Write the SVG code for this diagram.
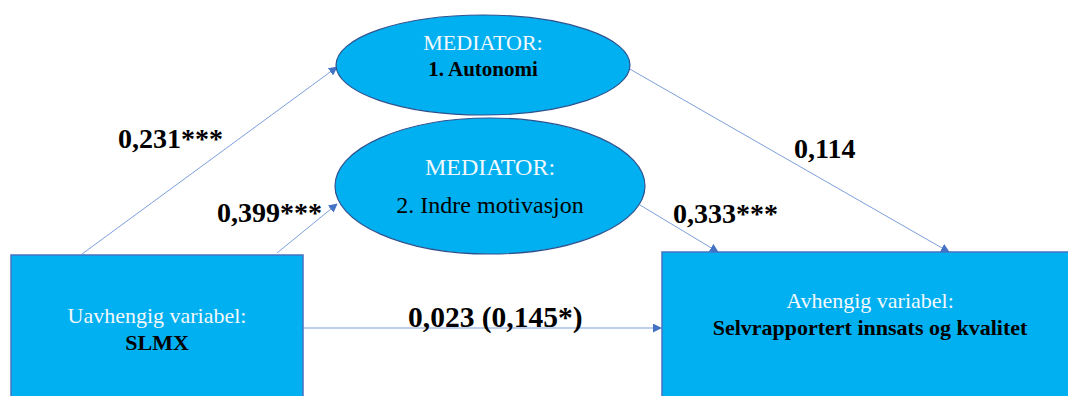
<svg xmlns="http://www.w3.org/2000/svg" width="1068" height="396" viewBox="0 0 1068 396">
<defs>
<style>
.box{fill:#00B0F0;stroke:#4472C4;stroke-width:1.5}
.ell{fill:#00B0F0;stroke:#2F528F;stroke-width:1.2}
text{font-family:'Liberation Serif','Times New Roman',Tinos,'DejaVu Serif',serif}
.lt{fill:#F2F8FC;text-anchor:middle}
.bk{fill:#000;text-anchor:middle}
.b{font-weight:bold}
.lbl{font-weight:bold;font-size:28px;fill:#000}
.con{stroke:#7C9FDA;stroke-width:1;fill:none;marker-end:url(#ah)}
</style>
<marker id="ah" viewBox="0 0 10 10" refX="9" refY="5" markerWidth="9" markerHeight="9" markerUnits="userSpaceOnUse" orient="auto">
<path d="M0,0 L10,5 L0,10 z" fill="#4472C4"/>
</marker>
</defs>
<rect width="1068" height="396" fill="#FFFFFF"/>
<g id="connectors">
<line class="con" x1="82" y1="254" x2="337" y2="67"/>
<line class="con" x1="277" y1="253" x2="337" y2="204"/>
<line class="con" x1="628" y1="68" x2="949" y2="252"/>
<line class="con" x1="640" y1="205" x2="718" y2="252"/>
<line class="con" x1="303" y1="328" x2="661" y2="328"/>
</g>
<g id="mediator1">
<ellipse class="ell" cx="483" cy="65" rx="147" ry="50"/>
<text class="lt" x="483" y="50" font-size="22">MEDIATOR:</text>
<text class="bk b" x="483" y="76" font-size="21">1. Autonomi</text>
</g>
<g id="mediator2">
<ellipse class="ell" cx="490" cy="186" rx="155" ry="68"/>
<text class="lt" x="490" y="175" font-size="24">MEDIATOR:</text>
<text class="bk" x="490" y="213" font-size="24">2. Indre motivasjon</text>
</g>
<g id="independent">
<rect class="box" x="11" y="255" width="292" height="160"/>
<text class="lt" x="157" y="323" font-size="22">Uavhengig variabel:</text>
<text class="bk b" x="157" y="350" font-size="22">SLMX</text>
</g>
<g id="dependent">
<rect class="box" x="662" y="252" width="420" height="160"/>
<text class="lt" x="870" y="308" font-size="22">Avhengig variabel:</text>
<text class="bk b" x="870" y="335" font-size="22">Selvrapportert innsats og kvalitet</text>
</g>
<g id="labels">
<text class="lbl" x="118" y="148">0,231***</text>
<text class="lbl" x="217" y="222">0,399***</text>
<text class="lbl" x="794" y="158">0,114</text>
<text class="lbl" x="673" y="223">0,333***</text>
<text class="lbl" x="408" y="327" font-size="29.5px" style="font-size:29.5px">0,023 (0,145*)</text>
</g>
</svg>
